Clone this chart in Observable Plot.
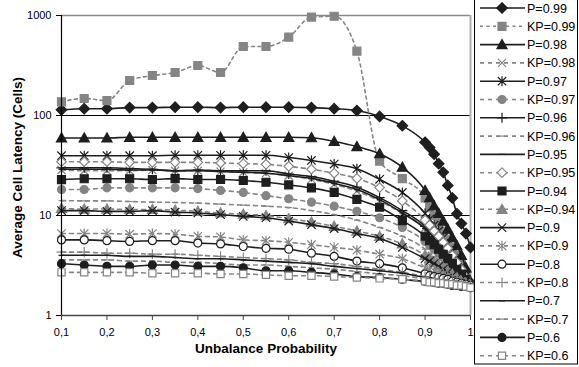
<!DOCTYPE html>
<html>
<head>
<meta charset="utf-8">
<script src="https://cdn.jsdelivr.net/npm/d3@7"></script>
<script src="https://cdn.jsdelivr.net/npm/@observablehq/plot@0.6"></script>
<style>
  html, body { margin: 0; padding: 0; background: #fff; }
  #wrap { position: relative; width: 579px; height: 367px; overflow: hidden; font-family: "Liberation Sans", Arial, sans-serif; }
  #chart { position: absolute; left: 0; top: 0; }
  #legend { position: absolute; left: 474px; top: 0; }
</style>
</head>
<body>
<div id="wrap"><div id="chart"></div><div id="legend"></div></div>
<script>
// ---------- data ----------
const xValues = [0.1,0.15,0.2,0.25,0.3,0.35,0.4,0.45,0.5,0.55,0.6,0.65,0.7,0.75,0.8,0.85,0.9,0.91,0.92,0.93,0.94,0.95,0.96,0.97,0.98,0.99,1.0];
const xTicks = [0.1,0.2,0.3,0.4,0.5,0.6,0.7,0.8,0.9,1.0];
const yTicks = [1,10,100,1000];
const xTitle = "Unbalance Probability";
const yTitle = "Average Cell Latency (Cells)";

const seriesNames = ["P=0.99","KP=0.99","P=0.98","KP=0.98","P=0.97","KP=0.97","P=0.96","KP=0.96","P=0.95","KP=0.95",
                     "P=0.94","KP=0.94","P=0.9","KP=0.9","P=0.8","KP=0.8","P=0.7","KP=0.7","P=0.6","KP=0.6"];

const P099  = [114,117,117,120,120,121,121,120,121,121,121,120,117,112,98,79, 54,48,41,33,27,20,15,10.4,8.3,6.6,4.8];
const KP099 = [137,148,141,224,251,269,316,269,490,490,607,962,983,440,35,23.4, 15,12,10,8.5,7,5.8,4.8,4,3.3,2.6,2.1];
const P098  = [59.6,59.6,59.6,60.5,60.5,60.5,60.5,60.5,60.5,60.5,60.5,60,55,49,41.5,30.4, 17.8,15,12.5,10.5,8.8,7.3,6,5,4,3,2.2];
const KP098 = [28.5,28,28,28,28.5,28,28,27.5,27,26.5,25,23,20.5,17.5,14,10.5, 7.5,6.7,6,5.3,4.7,4.1,3.6,3.1,2.7,2.3,2.0];
const P097  = [39.6,39.6,39.6,39.6,39.6,40,40,40,40,40,38,35.5,32.7,29.4,23,17, 10.5,9.2,8,7,6,5.2,4.4,3.7,3.1,2.5,2.0];
const KP097 = [18.2,18.2,18.9,18.9,18.9,18.9,18.6,17.8,17,15.8,14.7,13.6,12.4,11,9.5,7.6, 5.5,5,4.6,4.2,3.8,3.4,3.1,2.8,2.5,2.2,2.0];
const P096  = [30,30,30,29.5,29,28,28.5,28,28,28,26,24.5,22,19.2,15.1,11.2, 7.8,7,6.2,5.5,4.9,4.3,3.7,3.2,2.8,2.4,2.0];
const KP096 = [14.1,14,14,13.8,13.6,13.5,13.3,13,12.7,12.4,12,11.2,10.2,9,7.6,6.2, 4.6,4.2,3.9,3.6,3.3,3,2.8,2.5,2.3,2.1,2.0];
const P095  = [29,29,29,28.5,28.5,28,28,27.5,27,26.5,25,23.5,21,18.2,14.4,10.6, 7.4,6.7,6,5.3,4.7,4.1,3.6,3.1,2.7,2.3,2.0];
const KP095 = [34.5,34.5,34.5,34,34,34,34,33.5,33,32.5,31,29,26.5,23.5,19,14, 9,8,7,6.2,5.4,4.7,4,3.4,2.9,2.4,2.0];
const P094  = [22.8,23.3,23.3,23.3,22.9,23.4,22.9,22.9,22.4,21.5,20.2,18.9,17,14.5,12.1,8.9, 6.2,5.6,5.1,4.6,4.1,3.7,3.3,2.9,2.6,2.3,2.0];
const KP094 = [11.8,11.6,11.6,11.5,11.5,11.3,11,10.6,10.3,10,9.3,8.6,7.8,7,6.2,5.2, 4,3.7,3.4,3.2,3,2.8,2.6,2.4,2.2,2.1,2.0];
const P090  = [11.2,11.2,11,11,11.2,10.8,10.6,10.2,9.8,9.5,8.8,8.1,7.4,6.6,5.9,4.8, 3.7,3.5,3.3,3.1,2.9,2.7,2.5,2.35,2.2,2.1,2.0];
const KP090 = [6.6,6.6,6.6,6.5,6.6,6.5,6.2,6.1,5.7,5.6,5.4,5.1,4.8,4.5,4.1,3.7, 3,2.9,2.8,2.7,2.6,2.5,2.4,2.3,2.2,2.1,2.0];
const P080  = [5.7,5.7,5.6,5.5,5.6,5.6,5.3,5.2,4.9,4.7,4.6,4.2,3.9,3.5,3.3,3.0, 2.6,2.5,2.45,2.4,2.35,2.3,2.2,2.15,2.1,2.05,2.0];
const KP080 = [4.3,4.3,4.2,4.2,4.1,4.1,4,3.9,3.8,3.7,3.6,3.4,3.3,3.1,2.9,2.7, 2.45,2.4,2.35,2.3,2.25,2.2,2.15,2.1,2.05,2.0,2.0];
const P070  = [4.0,4.0,4.0,3.9,3.9,3.8,3.7,3.7,3.6,3.5,3.4,3.3,3.1,2.95,2.8,2.65, 2.4,2.35,2.3,2.25,2.2,2.15,2.1,2.05,2.0,2.0,1.95];
const KP070 = [3.6,3.6,3.6,3.5,3.5,3.4,3.4,3.3,3.2,3.2,3.1,3,2.9,2.75,2.6,2.5, 2.3,2.25,2.2,2.2,2.15,2.1,2.05,2.0,2.0,1.95,1.95];
const P060  = [3.3,3.2,3.1,3.1,3.2,3.2,3.1,3.1,3.0,2.8,2.8,2.7,2.6,2.45,2.4,2.3, 2.2,2.2,2.15,2.1,2.1,2.05,2.0,2.0,1.95,1.95,1.9];
const KP060 = [2.7,2.7,2.7,2.7,2.65,2.65,2.65,2.6,2.6,2.55,2.5,2.5,2.45,2.4,2.35,2.3, 2.2,2.15,2.15,2.1,2.1,2.05,2.05,2.0,2.0,1.95,1.9];

const seriesValues = [P099,KP099,P098,KP098,P097,KP097,P096,KP096,P095,KP095,P094,KP094,P090,KP090,P080,KP080,P070,KP070,P060,KP060];

// ---------- styles ----------
const BLACK = "#1e1e1e", GREY = "#858585";
function rad(size){ return Math.sqrt(size/Math.PI); }
const symbols = {
  diamond: {draw(c,s){const r=rad(s)*1.25; c.moveTo(0,-r);c.lineTo(r,0);c.lineTo(0,r);c.lineTo(-r,0);c.closePath();}},
  square:  {draw(c,s){const r=rad(s)*0.95; c.rect(-r,-r,2*r,2*r);}},
  triangle:{draw(c,s){const r=rad(s)*1.15; c.moveTo(0,-r);c.lineTo(r,r*0.8);c.lineTo(-r,r*0.8);c.closePath();}},
  times:   {draw(c,s){const r=rad(s); c.moveTo(-r,-r);c.lineTo(r,r);c.moveTo(r,-r);c.lineTo(-r,r);}},
  asterisk:{draw(c,s){const r=rad(s); c.moveTo(-r,-r);c.lineTo(r,r);c.moveTo(r,-r);c.lineTo(-r,r);c.moveTo(0,-r*1.2);c.lineTo(0,r*1.2);}},
  circle:  {draw(c,s){const r=rad(s); c.moveTo(r,0); c.arc(0,0,r,0,2*Math.PI);}},
  plus:    {draw(c,s){const r=rad(s)*1.2; c.moveTo(-r,0);c.lineTo(r,0);c.moveTo(0,-r);c.lineTo(0,r);}},
  dash:    {draw(c,s){const r=rad(s); c.moveTo(-r,0);c.lineTo(r,0);}}
};
// per series: [symbol, filled?, radius]
const seriesStyle = {
  "P=0.99":["diamond",true,4.2], "KP=0.99":["square",true,4.2],
  "P=0.98":["triangle",true,4.4], "KP=0.98":["times",false,4],
  "P=0.97":["asterisk",false,4.2], "KP=0.97":["circle",true,4],
  "P=0.96":["plus",false,4.2], "KP=0.96":["dash",false,3],
  "P=0.95":["dash",false,3], "KP=0.95":["diamond",false,3.8],
  "P=0.94":["square",true,4.2], "KP=0.94":["triangle",true,4.4],
  "P=0.9":["times",false,4.2], "KP=0.9":["asterisk",false,4.2],
  "P=0.8":["circle",false,4], "KP=0.8":["plus",false,4.2],
  "P=0.7":["dash",false,3], "KP=0.7":["dash",false,3],
  "P=0.6":["circle",true,4], "KP=0.6":["square",false,3.8]
};
function styleOf(name){
  const kp = name.startsWith("KP");
  const [sym, filled, r] = seriesStyle[name];
  const color = kp ? GREY : BLACK;
  const lineSym = sym==="times"||sym==="asterisk"||sym==="plus"||sym==="dash";
  return {
    color, r, symbol: symbols[sym],
    fill: lineSym ? "none" : (filled ? color : "white"),
    dash: kp ? (name==="KP=0.99" ? "3,3.5" : "4,4") : null,
    strokeWidth: 1.6
  };
}

// ---------- table ----------
const rows = seriesNames.flatMap((name,i)=> xValues.map((x,j)=>({series:name, x, y:seriesValues[i][j]})));

const marks = [
  Plot.ruleY([1000], {stroke:"#8a8a8a", strokeWidth:1.5}),
  Plot.ruleY([10,100], {stroke:"#000", strokeWidth:1}),
  Plot.ruleX([1], {stroke:"#b0b0b0", strokeWidth:2}),
];
seriesNames.forEach(name=>{
  const st = styleOf(name);
  const data = rows.filter(d=>d.series===name);
  marks.push(Plot.line(data, {x:"x", y:"y", stroke:st.color, strokeWidth:st.strokeWidth, strokeDasharray:st.dash, curve:"monotone-x"}));
  marks.push(Plot.dot(data, {x:"x", y:"y", symbol:()=>st.symbol, r:st.r, fill:st.fill, stroke:st.color, strokeWidth:1.2}));
});
marks.push(
  Plot.ruleX([0.1], {stroke:"#000", strokeWidth:1.2}),
  Plot.ruleY([1], {stroke:"#444", strokeWidth:1.5}),
  Plot.axisY({ticks:yTicks, tickFormat:d=>String(d), tickSize:5, tickPadding:5, fontSize:11, label:null, stroke:"#000"}),
  Plot.axisX({ticks:xTicks, tickFormat:d=>String(+d.toFixed(1)).replace(".", ","), tickSize:5, tickPadding:8, fontSize:11, label:null, stroke:"#444"}),
  Plot.text([xTitle], {frameAnchor:"bottom", dy:37, text:d=>d, fontWeight:"bold", fontSize:13.5, fill:"#000"}),
  Plot.text([yTitle], {frameAnchor:"left", textAnchor:"middle", dx:-44, dy:2, rotate:-90, text:d=>d, fontWeight:"bold", fontSize:13.5, fill:"#000"})
);

const chart = Plot.plot({
  width: 480, height: 367,
  marginLeft: 61, marginRight: 10, marginTop: 15, marginBottom: 52,
  style: {fontFamily:'"Liberation Sans", Arial, sans-serif', fontSize:"11px", color:"#000", background:"#fff", overflow:"visible"},
  x: {domain:[0.1,1]},
  y: {type:"log", domain:[1,1000]},
  marks
});
document.getElementById("chart").appendChild(chart);

// ---------- legend ----------
const lw = 105, lh = 367;
const lsvg = d3.select("#legend").append("svg").attr("width", lw).attr("height", lh)
  .style("font-family", '"Liberation Sans", Arial, sans-serif');
lsvg.append("rect").attr("x",0.5).attr("y",-2).attr("width",lw-2).attr("height",366).attr("fill","#fff").attr("stroke","#000").attr("stroke-width",1);
seriesNames.forEach((name,i)=>{
  const st = styleOf(name);
  const y = 8 + i*18.3;
  const g = lsvg.append("g");
  g.append("line").attr("x1",6).attr("x2",51).attr("y1",y).attr("y2",y)
    .attr("stroke",st.color).attr("stroke-width",st.strokeWidth).attr("stroke-dasharray",st.dash);
  const size = Math.PI*st.r*st.r;
  g.append("path").attr("d", d3.symbol(st.symbol, size)()).attr("transform",`translate(28,${y})`)
    .attr("fill",st.fill).attr("stroke",st.color).attr("stroke-width",1.2);
  g.append("text").attr("x",53).attr("y",y).attr("dy","0.36em").attr("font-size","12.5px").attr("fill","#000").text(name);
});
</script>
</body>
</html>
